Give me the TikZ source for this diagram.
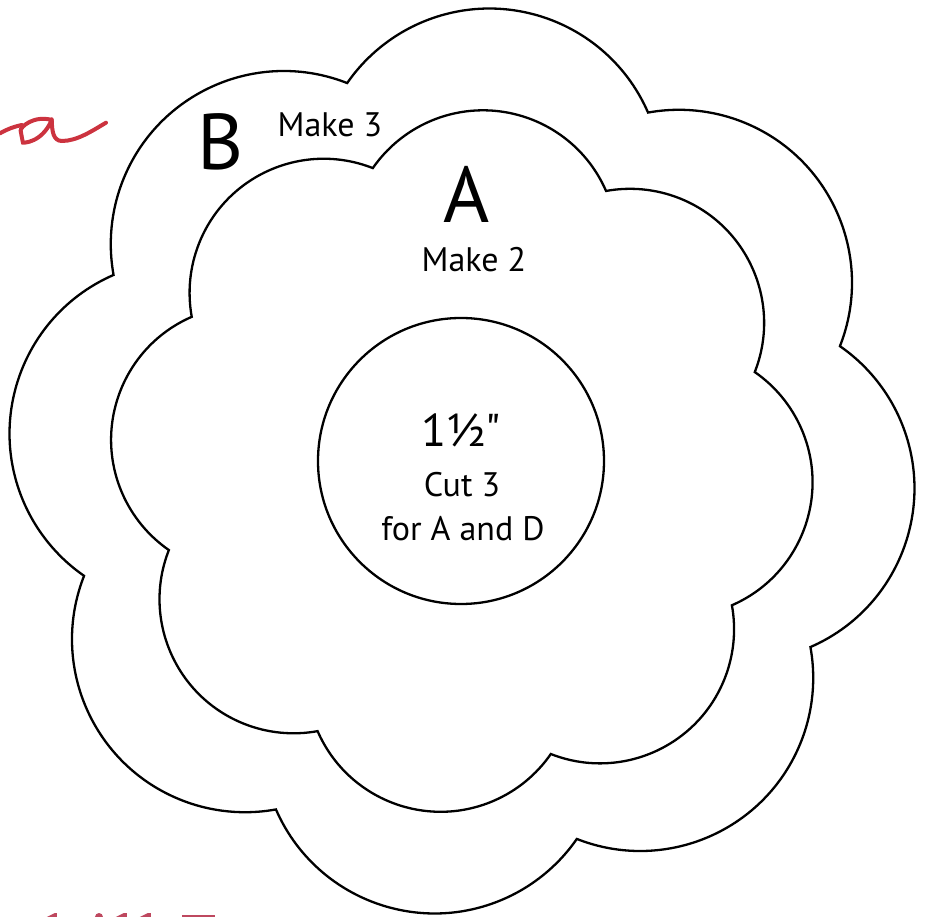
\documentclass[tikz,border=0pt]{standalone}
\usepackage{fontspec}
\setmainfont{PT Sans}[Ligatures=TeXOff]
\usepackage{tikz}
\definecolor{ScriptRed}{RGB}{204,51,63}
\definecolor{ScriptRose}{RGB}{190,72,95}

\begin{document}
\begin{tikzpicture}[x=1pt, y=1pt, line width=2.3pt,
        letter/.style={font=\fontsize{79}{79}\selectfont, inner sep=0pt, anchor=base},
        size/.style={font=\fontsize{46}{46}\selectfont, inner sep=0pt, anchor=base},
        note/.style={font=\fontsize{34}{34}\selectfont, inner sep=0pt, anchor=base}]
            % Setup and bounding box
            \useasboundingbox (-462,-456) rectangle (467,461);

            % B: outer flower
            \draw (16.9:395pt) \foreach \k in {0,...,7} {
                arc [start angle={39.4+45*\k-60.9}, end angle={39.4+45*\k+60.9}, radius=173pt]
            } -- cycle;

            % A: inner flower
            \draw (16.9:306pt) \foreach \k in {0,...,7} {
                arc [start angle={39.4+45*\k-60.9}, end angle={39.4+45*\k+60.9}, radius=134.1pt]
            } -- cycle;

            % Centre circle
            \node (centre) [circle, draw, minimum size=286pt, inner sep=0pt] at (-1,0) {};

            % Labels
            \node (labelB) [letter] at (-241,291) {B};
            \node (makeB) [note] at (-132,324) {Make 3};
            \node (labelA) [letter] at (5,238) {A};
            \node (makeA) [note] at (12,189) {Make 2};
            \node (size) [size] at (-1,14) {1½"};
            \node (cut) [note] at (0,-36) {Cut 3};
            \node (for) [note] at (1,-80) {for A and D};

            % Script pieces of the next page
            \draw [ScriptRed, line width=4pt, line cap=round] (-462,327.7) to [bend left=8] (-440.3,336);
            \draw [ScriptRed, line width=4pt, line cap=round, rounded corners=6pt]
                (-410.3,341) .. controls (-428,346) and (-442,334) .. (-440.3,324.3)
                .. controls (-439,318) and (-420,318) .. (-410.3,341);
            \draw [ScriptRed, line width=4pt, line cap=round]
                (-410.3,341.7) .. controls (-410,330) and (-409,320) .. (-400,320)
                .. controls (-385,320) and (-370,330) .. (-356,338.3);
            \fill [ScriptRose] (-415,-456) -- (-407,-452) -- (-405,-452) -- (-405,-456) -- cycle;
            \fill [ScriptRose] (-367,-456) arc [start angle=180, end angle=0, radius=4pt] -- cycle;
            \fill [ScriptRose] (-346,-456) -- (-338,-452) -- (-335,-452) -- (-335,-456) -- cycle;
            \fill [ScriptRose] (-322,-456) -- (-314,-452) -- (-311,-452) -- (-311,-456) -- cycle;
            \fill [ScriptRose] (-280,-456) rectangle (-247,-454);
        \end{tikzpicture}
\end{document}
